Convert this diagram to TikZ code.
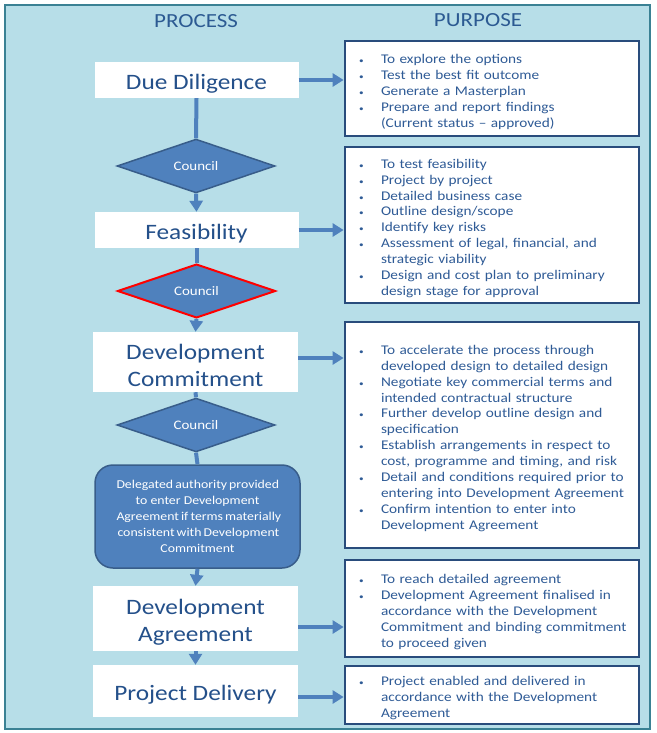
\documentclass[tikz,border=0pt]{standalone}
\usepackage{fontspec}
\setmainfont{Carlito}[FakeStretch=1.15]
\usepackage{enumitem}
\usetikzlibrary{shapes.geometric,arrows.meta}
\definecolor{bgblue}{HTML}{B7DEE8}
\definecolor{framecol}{HTML}{3A8194}
\definecolor{flow}{HTML}{4F81BD}
\definecolor{flowdark}{HTML}{385D8A}
\definecolor{navy}{HTML}{294C7C}
\definecolor{titleblue}{HTML}{24508A}
\definecolor{textblue}{HTML}{2F5B96}
\definecolor{headblue}{HTML}{2C5A92}
\setlist[itemize]{label={\footnotesize\textbullet}, leftmargin=36pt, labelwidth=8pt, labelsep=14pt, align=left, itemsep=0pt, parsep=0pt, topsep=0pt, partopsep=0pt}
\newcommand{\tstrut}{\rule{0pt}{22.5pt}}
\begin{document}
\begin{tikzpicture}[x=1pt,y=-1pt,
  procbox/.style={fill=white, text=titleblue, font=\fontsize{22}{27}\selectfont, align=center, inner sep=0pt, minimum width=204pt},
  councilbox/.style={diamond, fill=flow, draw=flowdark, line width=1.5pt, text=white, font=\fontsize{13}{15}\selectfont, inner sep=0pt, minimum width=158pt, minimum height=53pt},
  purpbox/.style={draw=navy, line width=2.8pt, fill=white, text=textblue, font=\fontsize{13.3}{15.9}\selectfont, inner xsep=0pt, inner ysep=0pt, text width=294pt, minimum width=294pt, align=left},
  header/.style={text=headblue, font=\fontsize{20}{24}\selectfont},
  flowline/.style={draw=flow, line width=4pt},
  flowarrow/.style={draw=flow, line width=4pt, -{Triangle[length=11pt,width=13pt]}},
  sidearrow/.style={draw=flow, line width=3.5pt, -{Triangle[length=11pt,width=13pt]}}
]
\useasboundingbox (0,0) rectangle (656,733);
\node[draw=framecol, line width=2.5pt, fill=bgblue, minimum width=645pt, minimum height=724pt, inner sep=0pt] (frame) at (327.5,367) {};

\node[header] (hproc) at (196,21) {PROCESS};
\node[header] (hpurp) at (478,20) {PURPOSE};

% process column
\node[procbox, minimum height=36pt] (dd) at (196.5,80) {\tstrut Due Diligence};
\node[councilbox] (c1) at (196,166) {Council};
\node[procbox, minimum height=36pt] (feas) at (196.5,230) {\tstrut Feasibility};
\node[councilbox, draw=red, line width=2pt] (c2) at (196.5,291) {Council};
\node[procbox, minimum height=60pt, minimum width=205pt] (dc) at (195.5,362) {\tstrut Development\\Commitment};
\node[councilbox] (c3) at (196,425) {Council};
\node[fill=flow, draw=flowdark, line width=1.5pt, rounded corners=18pt, minimum width=205pt, minimum height=103pt, text=white, align=center, inner sep=0pt, font=\fontsize{12}{16}\selectfont] (deleg) at (197.5,516.5)
  {\makebox[162pt][s]{Delegated authority provided}\\
   to enter Development\\
   \makebox[162pt][s]{Agreement if terms materially}\\
   \makebox[160pt][s]{consistent with Development}\\
   Commitment};
\node[procbox, minimum height=65pt, minimum width=205pt] (da) at (195.5,618.5) {\tstrut Development\\Agreement};
\node[procbox, minimum height=52pt, minimum width=205pt] (pd) at (195.5,691) {\tstrut Project Delivery};

% purpose column
\node[purpbox, minimum height=95pt] (p1) at (492,88.5) {\begin{itemize}
\item To explore the options
\item Test the best fit outcome
\item Generate a Masterplan
\item Prepare and report findings\\(Current status -- approved)
\end{itemize}};
\node[purpbox, minimum height=156pt] (p2) at (492,225) {\begin{itemize}
\item To test feasibility
\item Project by project
\item Detailed business case
\item Outline design/scope
\item Identify key risks
\item Assessment of legal, financial, and\\strategic viability
\item Design and cost plan to preliminary\\design stage for approval
\end{itemize}};
\node[purpbox, minimum height=226pt] (p3) at (492,435) {\begin{itemize}
\item To accelerate the process through\\developed design to detailed design
\item Negotiate key commercial terms and\\intended contractual structure
\item Further develop outline design and\\specification
\item Establish arrangements in respect to\\cost, programme and timing, and risk
\item Detail and conditions required prior to\\entering into Development Agreement
\item Confirm intention to enter into\\Development Agreement
\end{itemize}};
\node[purpbox, minimum height=97pt] (p4) at (492,608.5) {\begin{itemize}
\item To reach detailed agreement
\item Development Agreement finalised in\\accordance with the Development\\Commitment and binding commitment\\to proceed given
\end{itemize}};
\node[purpbox, minimum height=58pt] (p5) at (492,695) {\begin{itemize}
\item Project enabled and delivered in\\accordance with the Development\\Agreement
\end{itemize}};

% vertical flow
\draw[flowline] (dd.south) -- (c1.north);
\draw[flowarrow] (c1.south) -- (feas.north);
\draw[flowline] (feas.south) -- (c2.north);
\draw[flowarrow] (c2.south) -- (dc.north);
\draw[flowline] (dc.south) -- (c3.north);
\draw[flowline] (c3.south) -- (deleg.north);
\draw[flowarrow] (deleg.south) -- (da.north);
\draw[flowarrow] (da.south) -- (pd.north);

% side arrows
\draw[sidearrow] (dd.east) -- (dd.east -| p1.west);
\draw[sidearrow] (feas.east) -- (feas.east -| p2.west);
\draw[sidearrow] ([yshift=4pt]dc.east) -- ([yshift=4pt]dc.east -| p3.west);
\draw[sidearrow] ([yshift=-8.5pt]da.east) -- ([yshift=-8.5pt]da.east -| p4.west);
\draw[sidearrow] ([yshift=-6pt]pd.east) -- ([yshift=-6pt]pd.east -| p5.west);
\end{tikzpicture}
\end{document}
